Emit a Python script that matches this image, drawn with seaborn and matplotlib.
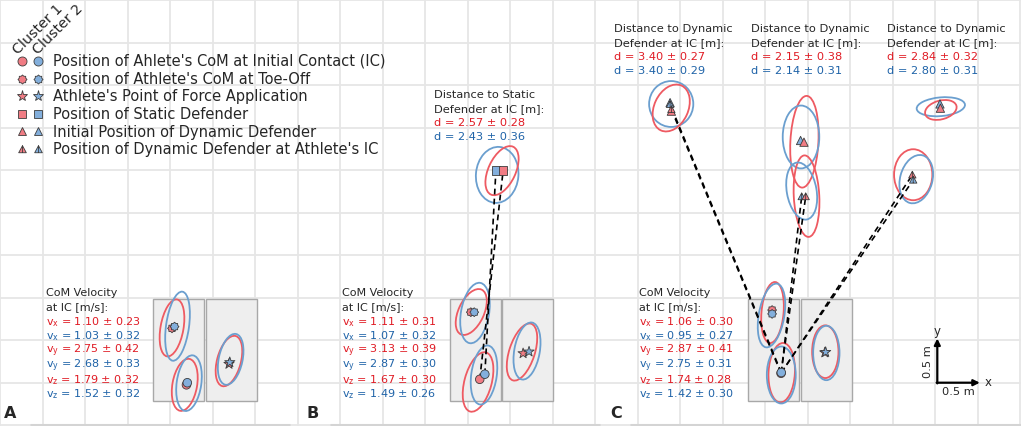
import numpy as np
import pandas as pd
import matplotlib
matplotlib.use("Agg")
import matplotlib.pyplot as plt
from matplotlib.patches import Ellipse, Rectangle
from matplotlib.path import Path
from matplotlib.lines import Line2D
from matplotlib.legend_handler import HandlerTuple
import seaborn as sns

sns.set_theme(style="white")
plt.rcParams['font.family'] = ['DejaVu Sans']
plt.rcParams['mathtext.fontset'] = 'dejavusans'

# ---- data (metres, relative to the lower left corner of the left force plate) ----
# point rows: (kind, cluster, x, y)
points_A = [
    ("ic", 1, 0.39, 0.19), ("ic", 2, 0.40, 0.215),
    ("to", 1, 0.22, 0.855), ("to", 2, 0.25, 0.875),
    ("pfa", 1, 0.89, 0.435), ("pfa", 2, 0.90, 0.455),
]
points_B = [
    ("ic", 1, 0.35, 0.255), ("ic", 2, 0.41, 0.315),
    ("to", 1, 0.245, 1.045), ("to", 2, 0.285, 1.045),
    ("pfa", 1, 0.86, 0.56), ("pfa", 2, 0.93, 0.58),
    ("static", 2, 0.54, 2.71), ("static", 1, 0.625, 2.71),
]
points_C = [
    ("ic", 1, 0.385, 0.326), ("ic", 2, 0.388, 0.335),
    ("to", 1, 0.28, 1.07), ("to", 2, 0.28, 1.025),
    ("pfa", 1, 0.90, 0.57), ("pfa", 2, 0.91, 0.575),
    ("dyn0", 2, -0.92, 3.51), ("dyn0", 1, -0.905, 3.41),
    ("dyn0", 2, 0.615, 3.065), ("dyn0", 1, 0.655, 3.045),
    ("dyn0", 2, 2.255, 3.495), ("dyn0", 1, 2.26, 3.445),
    ("dynic", 2, -0.92, 3.49), ("dynic", 1, -0.905, 3.43),
    ("dynic", 2, 0.628, 2.405), ("dynic", 1, 0.675, 2.405),
    ("dynic", 1, 1.93, 2.66), ("dynic", 2, 1.94, 2.60),
]

# ellipse rows: (cluster, cx, cy, width, height, angle)
ellipses_A = [
    (1, 0.22, 0.86, 0.27, 0.68, -10), (2, 0.285, 0.88, 0.27, 0.82, -8),
    (1, 0.37, 0.19, 0.29, 0.62, -10), (2, 0.42, 0.21, 0.29, 0.66, -8),
    (1, 0.89, 0.47, 0.28, 0.61, -15), (2, 0.91, 0.49, 0.28, 0.61, -12),
]
ellipses_B = [
    (1, 0.25, 1.047, 0.30, 0.58, -25), (2, 0.294, 1.035, 0.33, 0.72, -10),
    (1, 0.33, 0.224, 0.32, 0.72, -15), (2, 0.40, 0.306, 0.30, 0.70, -8),
    (1, 0.847, 0.576, 0.30, 0.70, -18), (2, 0.906, 0.588, 0.30, 0.68, -10),
    (2, 0.555, 2.66, 0.50, 0.66, -5), (1, 0.612, 2.71, 0.32, 0.62, -25),
]
ellipses_C = [
    (1, 0.285, 1.041, 0.26, 0.72, -5), (2, 0.273, 1.006, 0.30, 0.76, -10),
    (1, 0.393, 0.333, 0.31, 0.70, -3), (2, 0.388, 0.306, 0.34, 0.67, 0),
    (1, 0.906, 0.58, 0.31, 0.62, 0), (2, 0.918, 0.565, 0.31, 0.64, 0),
    (2, -0.907, 3.494, 0.52, 0.54, 0), (1, -0.907, 3.447, 0.40, 0.58, -25),
    (1, 0.66, 3.05, 0.33, 1.08, -3), (2, 0.62, 3.106, 0.43, 0.74, 0),
    (1, 0.685, 2.41, 0.30, 0.96, 3), (2, 0.628, 2.47, 0.35, 0.68, 10),
    (2, 2.265, 3.462, 0.57, 0.22, 5), (1, 2.265, 3.424, 0.38, 0.22, 15),
    (1, 1.94, 2.662, 0.45, 0.60, 0), (2, 1.976, 2.61, 0.38, 0.58, -15),
]

# CoM velocity at IC [m/s], (mean, sd) for cluster 1 and cluster 2
vel_A = {"x": [(1.10, 0.23), (1.03, 0.32)], "y": [(2.75, 0.42), (2.68, 0.33)], "z": [(1.79, 0.32), (1.52, 0.32)]}
vel_B = {"x": [(1.11, 0.31), (1.07, 0.32)], "y": [(3.13, 0.39), (2.87, 0.30)], "z": [(1.67, 0.30), (1.49, 0.26)]}
vel_C = {"x": [(1.06, 0.30), (0.95, 0.27)], "y": [(2.87, 0.41), (2.75, 0.31)], "z": [(1.74, 0.28), (1.42, 0.30)]}

# distance to defender at IC [m]
dist_B = [(2.57, 0.28), (2.43, 0.36)]
dist_C = [[(3.40, 0.27), (3.40, 0.29)], [(2.15, 0.38), (2.14, 0.31)], [(2.84, 0.32), (2.80, 0.31)]]

legend_labels = [
    "Position of Ahlete's CoM at Initial Contact (IC)",
    "Position of Athlete's CoM at Toe-Off",
    "Athlete's Point of Force Application",
    "Position of Static Defender",
    "Initial Position of Dynamic Defender",
    "Position of Dynamic Defender at Athlete's IC",
]

# ---- layout / style ----
W, H = 1021, 426
PX_PER_M = 85.0
def gx(px):
    return px / PX_PER_M
def gy(py):
    return 5.0 - py / PX_PER_M

plate_w, plate_h, plate_gap = 0.6, 1.2, 0.015
panels = {"A": (gx(153.3), gy(401)), "B": (gx(450), gy(401)), "C": (gx(748.3), gy(401))}

red_line, blue_line = "#ee5a62", "#6b9fcf"
red_fill, blue_fill = "#f07c84", "#83afdc"
red_txt, blue_txt = "#e01b24", "#1f63a8"
line_cols = {1: red_line, 2: blue_line}
txt_cols = [red_txt, blue_txt]
FS = 8.0

ang = np.linspace(0, 2 * np.pi, 17)[:-1]
rad = np.where(np.arange(16) % 2 == 0, 1.0, 0.78)
cog = Path(np.column_stack([rad * np.cos(ang), rad * np.sin(ang)]).tolist() + [[1.0, 0.0]], closed=True)
tri_v = Path([[-1, -0.85], [1, -0.85], [0, 1], [-1, -0.85], [0, 1], [0, -0.85]],
             [Path.MOVETO, Path.LINETO, Path.LINETO, Path.CLOSEPOLY, Path.MOVETO, Path.LINETO])

marker_map = {"ic": "o", "to": cog, "pfa": "*", "static": "s", "dyn0": "^", "dynic": tri_v}
size_map = {"ic": 38, "to": 40, "pfa": 60, "static": 36, "dyn0": 36, "dynic": 28}

rows = []
for name, pts in [("A", points_A), ("B", points_B), ("C", points_C)]:
    ox, oy = panels[name]
    for kind, cl, x, y in pts:
        rows.append({"panel": name, "kind": kind, "cluster": f"Cluster {cl}",
                     "x": ox + x, "y": oy + y})
df = pd.DataFrame(rows)

fig = plt.figure(figsize=(W / 100, H / 100), dpi=100)
ax = fig.add_axes([0, 0, 1, 1])
ax.set_xlim(0, W / PX_PER_M)
ax.set_ylim(5.0 - H / PX_PER_M, 5.0)
ax.set_xticks(np.arange(0, 12.01, 0.5))
ax.set_yticks(np.arange(0, 5.01, 0.5))
ax.grid(True, color="#e6e6e6", lw=1.3)
ax.set_axisbelow(True)
ax.tick_params(length=0, labelbottom=False, labelleft=False)
for s in ax.spines.values():
    s.set_visible(False)

# force plates
for name, (ox, oy) in panels.items():
    for k in range(2):
        ax.add_patch(Rectangle((ox + k * (plate_w + plate_gap), oy), plate_w, plate_h,
                               fc="#eeeeee", ec="#a8a8a8", lw=1.0, zorder=1))

# confidence ellipses
for name, ells in [("A", ellipses_A), ("B", ellipses_B), ("C", ellipses_C)]:
    ox, oy = panels[name]
    for cl, cx, cy, w, h, a in ells:
        ax.add_patch(Ellipse((ox + cx, oy + cy), w, h, angle=a, fill=False,
                             ec=line_cols[cl], lw=1.3, zorder=3))

# dashed distance lines
for name, target in [("B", "static"), ("C", "dynic")]:
    sub = df[df.panel == name]
    for cl in ["Cluster 1", "Cluster 2"]:
        start = sub[(sub.kind == "ic") & (sub.cluster == cl)].iloc[0]
        for _, end in sub[(sub.kind == target) & (sub.cluster == cl)].iterrows():
            ax.plot([start.x, end.x], [start.y, end.y], ls=(0, (3.5, 2.5)), color="black", lw=1.2, zorder=4)

sns.scatterplot(data=df, x="x", y="y", hue="cluster", style="kind", size="kind",
                markers=marker_map, sizes=size_map,
                palette={"Cluster 1": red_fill, "Cluster 2": blue_fill},
                edgecolor="#3c3c3c", linewidth=0.6, legend=False, ax=ax, zorder=5)
ax.set_xlabel("")
ax.set_ylabel("")

# velocity text blocks (baseline offsets in px below the block top)
vel_rows = {"x": (33, 47), "y": (61.5, 76.5), "z": (91, 105)}
def vel_block(x_px, y_px, vel):
    ax.text(gx(x_px), gy(y_px + 4), "CoM Velocity", fontsize=FS, va="baseline")
    ax.text(gx(x_px), gy(y_px + 18), "at IC [m/s]:", fontsize=FS, va="baseline")
    for comp in ["x", "y", "z"]:
        for c in range(2):
            m, sd = vel[comp][c]
            ax.text(gx(x_px), gy(y_px + vel_rows[comp][c]),
                    r"v$_\mathregular{%s}$ = %.2f ± %.2f" % (comp, m, sd),
                    fontsize=FS, va="baseline", color=txt_cols[c])

def dist_block(x_px, y_px, header, dist):
    for j, line in enumerate(header):
        ax.text(gx(x_px), gy(y_px + 4 + j * 14), line, fontsize=8.2, va="baseline")
    for c in range(2):
        m, sd = dist[c]
        ax.text(gx(x_px), gy(y_px + 4 + (2 + c) * 14), "d = %.2f ± %.2f" % (m, sd),
                fontsize=8.2, va="baseline", color=txt_cols[c])

vel_block(45.7, 292, vel_A)
vel_block(342.3, 292, vel_B)
vel_block(639.3, 292, vel_C)
dist_block(434.3, 94, ["Distance to Static", "Defender at IC [m]:"], dist_B)
for x_px, d in zip([614, 750.7, 887.3], dist_C):
    dist_block(x_px, 28.3, ["Distance to Dynamic", "Defender at IC [m]:"], d)

# panel letters
for lab, x_px in [("A", 4), ("B", 306), ("C", 610)]:
    ax.text(gx(x_px), gy(413), lab, fontsize=11.5, fontweight="bold", va="center", ha="left")

# scale bar
sx, sy = gx(937.3), gy(382.7)
ax.annotate("", xy=(sx + 0.5, sy), xytext=(sx - 0.008, sy),
            arrowprops=dict(arrowstyle="-|>", lw=1.6, color="black", mutation_scale=9, shrinkA=0, shrinkB=0))
ax.annotate("", xy=(sx, sy + 0.52), xytext=(sx, sy - 0.008),
            arrowprops=dict(arrowstyle="-|>", lw=1.6, color="black", mutation_scale=9, shrinkA=0, shrinkB=0))
ax.text(sx + 0.56, sy, "x", fontsize=8.5, va="center", ha="left")
ax.text(sx, sy + 0.53, "y", fontsize=8.5, va="bottom", ha="center")
ax.text(sx + 0.25, sy - 0.05, "0.5 m", fontsize=8.2, va="top", ha="center")
ax.text(sx - 0.05, sy + 0.25, "0.5 m", fontsize=8.2, va="center", ha="right", rotation=90)

# faint panel borders
for x0, x1 in [(30, 290), (330, 600), (630, 1021)]:
    ax.plot([gx(x0), gx(x1)], [gy(424.5), gy(424.5)], color="#d4d4d4", lw=2.2, zorder=1,
            solid_capstyle="butt")

# legend with two marker columns
leg_kinds = ["ic", "to", "pfa", "static", "dyn0", "dynic"]
leg_ms = {"ic": 6.5, "to": 6.5, "pfa": 8.0, "static": 6.2, "dyn0": 6.2, "dynic": 5.5}
handles = []
for k in leg_kinds:
    pair = tuple(Line2D([], [], ls="none", marker=marker_map[k], markersize=leg_ms[k],
                        mfc=f, mec="#3c3c3c", mew=0.6) for f in (red_fill, blue_fill))
    handles.append(pair)
ax.legend(handles, legend_labels, handler_map={tuple: HandlerTuple(ndivide=None, pad=0)},
          loc="upper left", bbox_to_anchor=(14 / W, 1 - 54 / H), bbox_transform=fig.transFigure,
          frameon=False, fontsize=10.5, handlelength=2.2, handletextpad=0.45,
          labelspacing=0.18, borderpad=0, borderaxespad=0)
for lab, x_px in [("Cluster 1", 18), ("Cluster 2", 38)]:
    ax.text(gx(x_px), gy(55), lab, fontsize=10.3, rotation=45, rotation_mode="anchor",
            ha="left", va="baseline")

fig.savefig("out.png", dpi=100)
